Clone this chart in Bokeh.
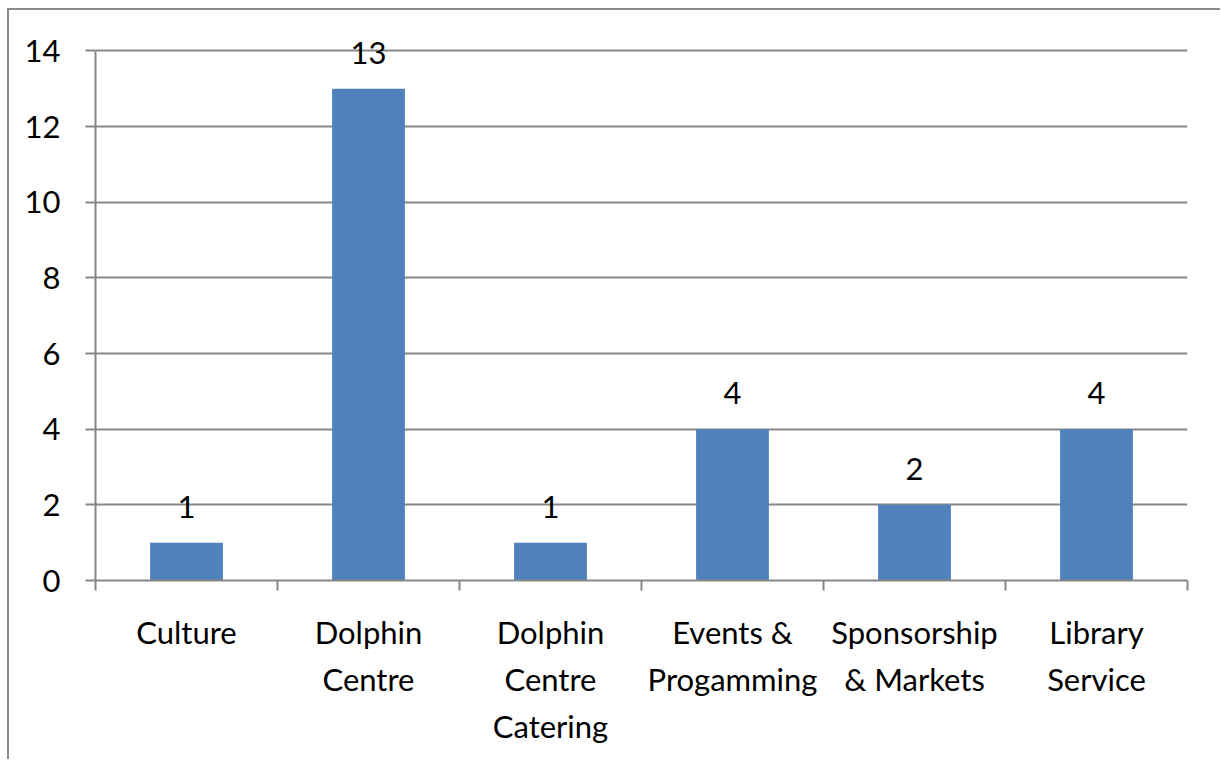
from bokeh.plotting import figure
from bokeh.models import ColumnDataSource, FixedTicker, LabelSet, Range1d
from bokeh.core.properties import value
from bokeh.embed import file_html
from bokeh.resources import INLINE

categories = ["Culture", "Dolphin\nCentre", "Dolphin\nCentre\nCatering",
              "Events &\nProgamming", "Sponsorship\n& Markets", "Library\nService"]
counts = [1, 13, 1, 4, 2, 4]
y_ticks = [0, 2, 4, 6, 8, 10, 12, 14]

FONT = "Lato"
FS = "31px"
GRAY = "#878787"

xs = [i + 0.5 for i in range(len(categories))]
src = ColumnDataSource(dict(x=xs, y=counts, lbl=[str(c) for c in counts]))

p = figure(width=1211, height=749, output_backend="svg", toolbar_location=None,
           x_range=Range1d(0, len(categories)), y_range=Range1d(0, 14.7),
           min_border_left=86, min_border_right=35, min_border_top=14, min_border_bottom=181)
p.styles = {"border-left": "2px solid #8a8a8a", "border-top": "2px solid #8a8a8a",
            "box-sizing": "content-box", "margin-left": "7px", "margin-top": "8px"}
p.outline_line_color = None
p.background_fill_color = "white"
p.border_fill_color = "white"

p.vbar(x="x", top="y", width=0.4, bottom=0, source=src, fill_color="#4F81BD", line_color=None)

labels = LabelSet(x="x", y="y", text="lbl", source=src, text_align="center",
                  text_baseline="alphabetic", y_offset=25, text_font=value(FONT),
                  text_font_size=FS, text_color="black")
p.add_layout(labels)

# y axis
p.yaxis.ticker = FixedTicker(ticks=y_ticks)
p.yaxis.bounds = (0, 14)
p.yaxis.major_tick_out = 10
p.yaxis.major_tick_in = 0
p.yaxis.minor_tick_line_color = None
p.yaxis.axis_line_color = GRAY
p.yaxis.axis_line_width = 2
p.yaxis.major_tick_line_color = GRAY
p.yaxis.major_tick_line_width = 2
p.yaxis.major_label_standoff = 25
p.yaxis.major_label_text_font = FONT
p.yaxis.major_label_text_font_size = FS
p.yaxis.major_label_text_color = "black"

p.ygrid.grid_line_color = GRAY
p.ygrid.grid_line_width = 2
p.xgrid.grid_line_color = None

# x axis
p.xaxis.ticker = FixedTicker(ticks=xs, minor_ticks=list(range(len(categories) + 1)))
p.xaxis.major_label_overrides = {x: c for x, c in zip(xs, categories)}
p.xaxis.major_tick_line_color = None
p.xaxis.major_tick_out = 0
p.xaxis.minor_tick_out = 10
p.xaxis.minor_tick_in = 0
p.xaxis.minor_tick_line_color = GRAY
p.xaxis.minor_tick_line_width = 2
p.xaxis.axis_line_color = GRAY
p.xaxis.axis_line_width = 2
p.xaxis.major_label_standoff = 22
p.xaxis.major_label_text_font = FONT
p.xaxis.major_label_text_font_size = FS
p.xaxis.major_label_text_color = "black"
p.xaxis.major_label_text_line_height = 1.24

open("out.html", "w").write(file_html(p, INLINE))
